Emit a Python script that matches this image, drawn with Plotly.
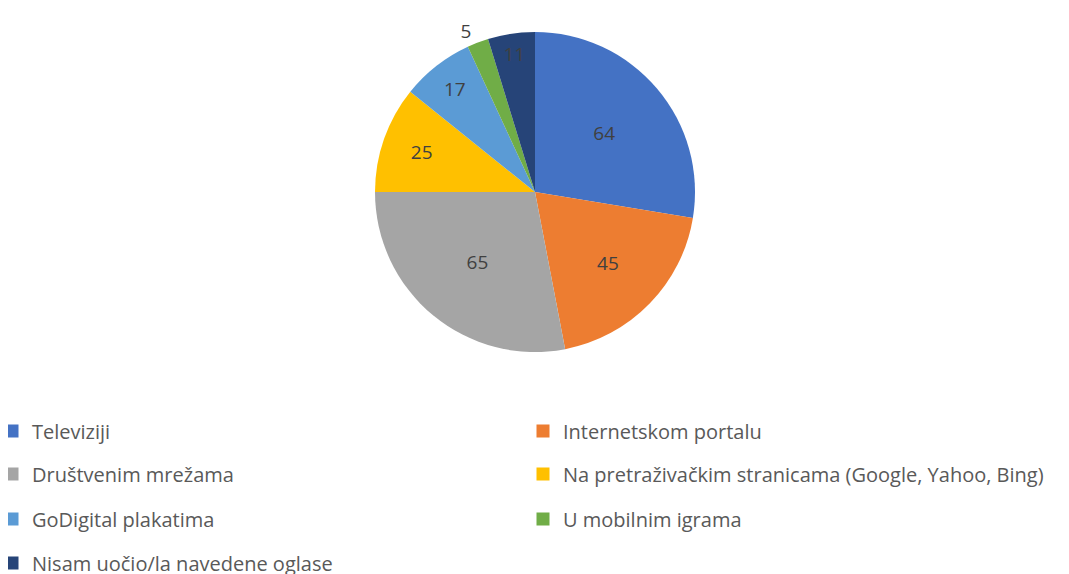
import plotly.graph_objects as go

labels = ["Televiziji", "Internetskom portalu", "Društvenim mrežama",
          "Na pretraživačkim stranicama (Google, Yahoo, Bing)",
          "GoDigital plakatima", "U mobilnim igrama", "Nisam uočio/la navedene oglase"]
values = [64, 45, 65, 25, 17, 5, 11]
colors = ["#4472C4", "#ED7D31", "#A5A5A5", "#FFC000", "#5B9BD5", "#70AD47", "#264478"]
textpos = ["inside", "inside", "inside", "inside", "inside", "outside", "inside"]

W, H = 1069, 574
PLOT_H = 360          # height of the plot area (top part of the figure)
OFF = 8               # page offset of the figure (body margin)
FONT = "Open Sans"

fig = go.Figure()
fig.add_trace(go.Pie(
    labels=labels, values=values, sort=False, direction="clockwise", rotation=0,
    marker=dict(colors=colors, line=dict(width=0)),
    textinfo="value", textposition=textpos, insidetextorientation="horizontal",
    textfont=dict(family=FONT, size=19, color="#404040"),
    outsidetextfont=dict(family=FONT, size=19, color="#404040"),
    showlegend=False, hoverinfo="label+value",
    domain=dict(x=[(375 - OFF) / W, (695 - OFF) / W],
                y=[1 - (352 - OFF) / PLOT_H, 1 - (32 - OFF) / PLOT_H]),
))

# legend entries (two columns, four rows)
row_y = [431, 474, 519, 563]
legend_names = ["legend", "legend2", "legend3", "legend4"]
for i, (lab, col) in enumerate(zip(labels, colors)):
    fig.add_trace(go.Scatter(
        x=[None], y=[None], mode="markers", name=lab,
        marker=dict(symbol="square", size=13, color=col),
        legend=legend_names[i // 2], showlegend=True, hoverinfo="skip",
    ))

leg_common = dict(orientation="h", xref="paper", yref="paper",
                  x=-16 / W, xanchor="left", yanchor="middle",
                  entrywidth=486, entrywidthmode="pixels",
                  font=dict(family=FONT, size=20, color="#595959"),
                  bgcolor="rgba(0,0,0,0)", itemclick=False, itemdoubleclick=False)
layout_legends = {}
for name, ry in zip(legend_names, row_y):
    layout_legends[name] = dict(leg_common, y=(PLOT_H - (ry - OFF)) / PLOT_H)

fig.update_layout(
    width=W, height=H,
    margin=dict(l=0, r=0, t=0, b=H - PLOT_H, autoexpand=False),
    paper_bgcolor="white", plot_bgcolor="white",
    xaxis=dict(visible=False), yaxis=dict(visible=False),
    **layout_legends,
)

fig.write_html("out.html")
